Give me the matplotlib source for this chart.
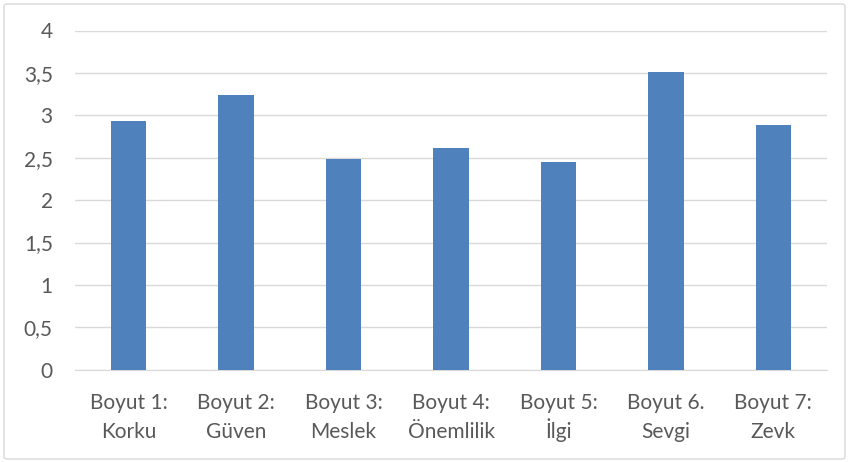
import numpy as np
import matplotlib
matplotlib.use("Agg")
import matplotlib.pyplot as plt
from matplotlib.patches import FancyBboxPatch
from matplotlib.ticker import FuncFormatter

# Data
label_top = ["Boyut 1:", "Boyut 2:", "Boyut 3:", "Boyut 4:", "Boyut 5:", "Boyut 6.", "Boyut 7:"]
label_bottom = ["Korku", "Güven", "Meslek", "Önemlilik", "İlgi", "Sevgi", "Zevk"]
values = [2.93, 3.24, 2.48, 2.61, 2.45, 3.51, 2.88]
y_ticks = [0, 0.5, 1, 1.5, 2, 2.5, 3, 3.5, 4]

plt.rcParams['font.family'] = ['Lato', 'DejaVu Sans']
TXT = "#595959"
FS = 15

fig = plt.figure(figsize=(8.5, 4.62), dpi=100)
W, H = 850, 462
ax = fig.add_axes([75 / W, 1 - 369.7 / H, (827 - 75) / W, (369.7 - 30.5) / H])

# chart border
border = FancyBboxPatch((4 / W, 3 / H), 841 / W, 455 / H, boxstyle="round,pad=0,rounding_size=0.004",
                        transform=fig.transFigure, facecolor="none", edgecolor="#D9D9D9", linewidth=1)
fig.patches.append(border)

x = np.arange(len(values))
ax.bar(x, values, width=0.33, color="#4F81BD", zorder=3)

ax.set_xlim(-0.5, len(values) - 0.5)
ax.set_ylim(0, 4)
ax.set_yticks(y_ticks)
ax.yaxis.set_major_formatter(FuncFormatter(lambda v, p: f"{v:g}".replace(".", ",")))
ax.set_xticks(x)
ax.set_xticklabels([])

# two-line category labels, drawn per line so baselines stay aligned
for i, (a, b) in enumerate(zip(label_top, label_bottom)):
    ax.annotate(a, xy=(i, 0), xycoords=("data", "axes fraction"), xytext=(0, -39.5),
                textcoords="offset pixels", ha="center", va="baseline", fontsize=FS, color=TXT)
    ax.annotate(b, xy=(i, 0), xycoords=("data", "axes fraction"), xytext=(0, -68.5),
                textcoords="offset pixels", ha="center", va="baseline", fontsize=FS, color=TXT)

ax.grid(axis="y", color="#D9D9D9", linewidth=1, zorder=0)
for s in ["top", "right", "left"]:
    ax.spines[s].set_visible(False)
ax.spines["bottom"].set_color("#D9D9D9")
ax.tick_params(axis="both", length=0, labelsize=FS, colors=TXT)
ax.tick_params(axis="y", pad=16)

fig.savefig("out.png", dpi=100)
